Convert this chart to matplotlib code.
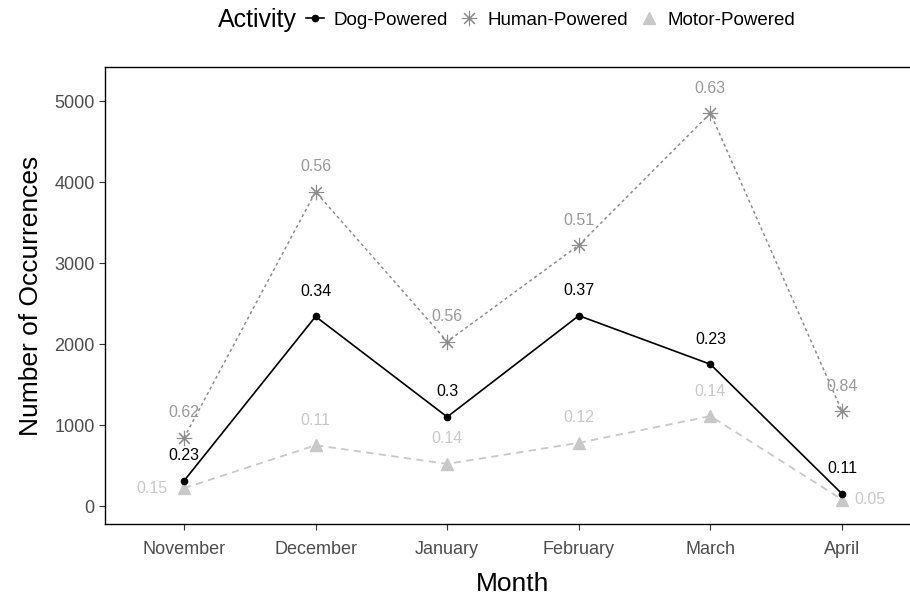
import matplotlib

matplotlib.use("Agg")
import matplotlib.pyplot as plt
from matplotlib.lines import Line2D

plt.rcParams["font.family"] = ["Liberation Sans", "DejaVu Sans"]

# ---- Data ---------------------------------------------------------------
months = ["November", "December", "January", "February", "March", "April"]
dog = [310, 2340, 1100, 2350, 1750, 150]
human = [840, 3880, 2030, 3220, 4850, 1170]
motor = [220, 750, 520, 780, 1110, 80]
dog_prop = ["0.23", "0.34", "0.3", "0.37", "0.23", "0.11"]
human_prop = ["0.62", "0.56", "0.56", "0.51", "0.63", "0.84"]
motor_prop = ["0.15", "0.11", "0.14", "0.12", "0.14", "0.05"]

DOG_C = "#000000"
HUMAN_C = "#8c8c8c"
HUMAN_TXT = "#999999"
MOTOR_C = "#c8c8c8"

fig = plt.figure(figsize=(9.1, 5.96), dpi=100)
ax = fig.add_axes([105 / 910, 72 / 596, 816 / 910, 457 / 596])

x = list(range(len(months)))

ax.plot(x, motor, color=MOTOR_C, lw=1.3, ls=(0, (4, 3)), marker="^",
        ms=9, mec=MOTOR_C, mfc=MOTOR_C, zorder=2)
ax.plot(x, human, color=HUMAN_C, lw=1.1, ls=(0, (2, 2)), marker=(8, 2, 0),
        ms=11, mew=0.8, mec=HUMAN_C, zorder=3)
ax.plot(x, dog, color=DOG_C, lw=1.2, marker="o", ms=4.5, zorder=4)

# ---- Proportion labels ---------------------------------------------------
def label(vals, texts, color, offsets=None):
    for i, (v, t) in enumerate(zip(vals, texts)):
        dx, dy = (0, 18)
        if offsets and i in offsets:
            dx, dy = offsets[i]
        ax.annotate(t, (i, v), xytext=(dx, dy), textcoords="offset points",
                    ha="center", va="center", fontsize=11.5, color=color,
                    zorder=5)


label(dog, dog_prop, DOG_C)
label(human, human_prop, HUMAN_TXT)
label(motor, motor_prop, MOTOR_C, offsets={0: (-23, 0), 5: (20, 0)})

ax.set_xlim(-0.6, 5.6)
ax.set_ylim(-222, 5420)
ax.set_xticks(x)
ax.set_xticklabels(months)
ax.set_yticks([0, 1000, 2000, 3000, 4000, 5000])
ax.tick_params(axis="both", labelsize=13, labelcolor="#4d4d4d",
               color="#333333", length=4, width=0.8)
ax.tick_params(axis="x", pad=8)
for s in ax.spines.values():
    s.set_linewidth(1.0)
ax.set_xlabel("Month", fontsize=19, labelpad=10)
ax.set_ylabel("Number of Occurrences", fontsize=19, labelpad=8)

# ---- Legend -------------------------------------------------------------
handles = [
    Line2D([], [], color=DOG_C, lw=1.2, marker="o", ms=4.5),
    Line2D([], [], color="#dddddd", lw=0, marker=(8, 2, 0), ms=11,
           mew=0.8, mec=HUMAN_C),
    Line2D([], [], color=MOTOR_C, lw=0, marker="^", ms=8, mec=MOTOR_C),
]
fig.text(218 / 910, 1 - 20 / 596, "Activity", fontsize=18, va="center",
         ha="left")
fig.legend(handles, ["Dog-Powered", "Human-Powered", "Motor-Powered"],
           loc="center left", bbox_to_anchor=(298 / 910, 1 - 20 / 596),
           ncol=3, frameon=False, fontsize=13.5, handlelength=1.0,
           handletextpad=0.5, columnspacing=0.6, borderaxespad=0)

fig.savefig("out.png", dpi=100)
